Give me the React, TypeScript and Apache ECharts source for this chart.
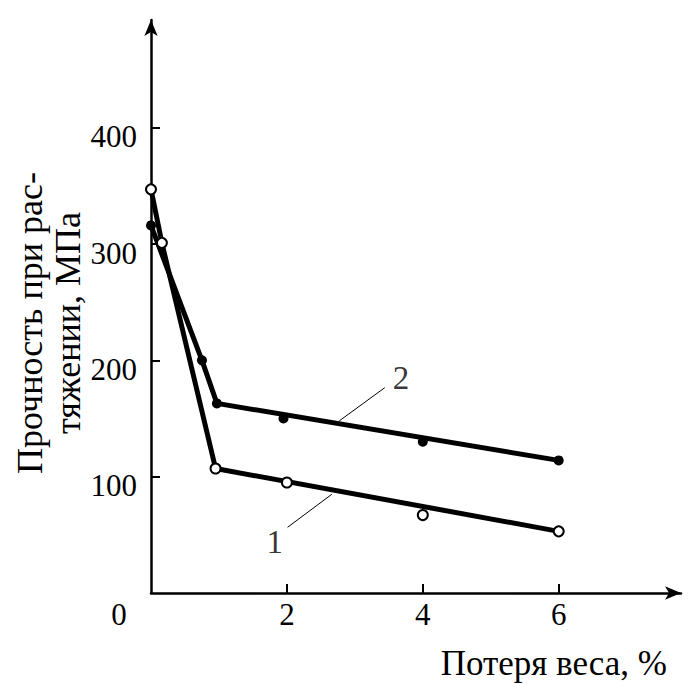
import React, { useEffect, useRef } from 'react';
import * as echarts from 'echarts';

const xLabelValues = [0, 2, 4, 6];
const xTickValues = [2, 4, 6];
const yTickValues = [100, 200, 300, 400];
const xMax = 7.8;
const yMax = 492.6;

// curve 1: open circles (measured points) and its fitted broken line
const curve1Points = [[0, 347], [0.16, 301], [0.95, 107], [2, 95], [4, 67], [6, 53]];
const curve1Line = [[0, 347], [0.16, 301], [0.95, 107], [6, 53]];
// curve 2: filled dots and its fitted broken line
const curve2Points = [[0, 316], [0.75, 200], [0.97, 163], [1.95, 150], [4, 130], [6, 114]];
const curve2Line = [[0, 316], [0.75, 200], [0.97, 163], [6, 114]];

const curveNames = ['1', '2'];
const curveNamePositions = [[1.82, 44], [3.68, 185]];
const leader1 = [[2.01, 56.5], [2.66, 84.8]];
const leader2 = [[3.44, 176.5], [2.77, 147.9]];

const xName = 'Потеря веса, %';
const yName = 'Прочность при рас-\nтяжении, МПа';

const FONT = 'Liberation Serif, serif';

export default function App() {
  const ref = useRef<HTMLDivElement>(null);
  useEffect(() => {
    if (!ref.current) return;
    const chart = echarts.init(ref.current, undefined, { renderer: 'svg' });
    const axisLine = {
      show: true,
      symbol: ['none', 'arrow'],
      symbolSize: [10, 16],
      lineStyle: { color: '#000', width: 2.5 },
    };
    chart.setOption({
      animation: false,
      backgroundColor: '#fff',
      grid: { left: 151, right: 8, top: 20, bottom: 91, containLabel: false },
      xAxis: {
        type: 'value',
        min: 0,
        max: xMax,
        interval: 2,
        splitLine: { show: false },
        axisLine,
        axisTick: {
          show: true,
          inside: true,
          length: 9,
          lineStyle: { color: '#000', width: 2 },
          customValues: xTickValues,
        },
        axisLabel: { show: false },
      },
      yAxis: {
        type: 'value',
        min: 0,
        max: yMax,
        interval: 100,
        splitLine: { show: false },
        axisLine,
        axisTick: {
          show: true,
          inside: true,
          length: 9,
          lineStyle: { color: '#000', width: 2 },
          customValues: yTickValues,
        },
        axisLabel: { show: false },
      },
      series: [
        { type: 'line', data: curve1Line, symbol: 'none', lineStyle: { color: '#000', width: 5 }, z: 2 },
        { type: 'line', data: curve2Line, symbol: 'none', lineStyle: { color: '#000', width: 5 }, z: 2 },
        { type: 'line', data: leader1, symbol: 'none', lineStyle: { color: '#000', width: 1 }, z: 2 },
        { type: 'line', data: leader2, symbol: 'none', lineStyle: { color: '#000', width: 1 }, z: 2 },
        {
          type: 'scatter',
          data: curve1Points,
          symbol: 'circle',
          symbolSize: 10,
          itemStyle: { color: '#fff', borderColor: '#000', borderWidth: 2, opacity: 1 },
          z: 3,
        },
        {
          type: 'scatter',
          data: curve2Points,
          symbol: 'circle',
          symbolSize: 10,
          itemStyle: { color: '#000', opacity: 1 },
          z: 3,
        },
        {
          type: 'scatter',
          data: curveNames.map((n, i) => ({ name: n, value: curveNamePositions[i] })),
          symbolSize: 1,
          itemStyle: { color: 'rgba(0,0,0,0)' },
          label: {
            show: true,
            position: 'inside',
            formatter: '{b}',
            fontFamily: FONT,
            fontSize: 33,
            color: '#000',
          },
          z: 3,
        },
      ],
    });

    // axis texts drawn as graphic text, placed from the axes' own scales
    const px = (p: number[]) => chart.convertToPixel({ gridIndex: 0 }, p) as number[];
    const txt = (text: string, x: number, y: number, extra: any = {}, size = 31) => ({
      type: 'text',
      x,
      y,
      silent: true,
      z: 10,
      ...extra.el,
      style: {
        text,
        fontFamily: FONT,
        fontSize: size,
        fill: '#000',
        align: 'center',
        verticalAlign: 'middle',
        ...extra.style,
      },
    });
    const graphics: any[] = [];
    yTickValues.forEach((v) => {
      const [x, y] = px([0, v]);
      graphics.push(txt(String(v), x - 14, y + 9, { style: { align: 'right' } }));
    });
    xLabelValues.forEach((v) => {
      const [x, y] = px([v, 0]);
      graphics.push(txt(String(v), v === 0 ? x - 32 : x, y + 21));
    });
    const [xe, ye] = px([xMax, 0]);
    graphics.push(txt(xName, xe - 14, ye + 70, { style: { align: 'right' } }, 35));
    const [ox, oy] = px([0, 0]);
    graphics.push(
      txt(yName, ox - 102, oy - 270, { el: { rotation: Math.PI / 2 }, style: { lineHeight: 38 } }, 36)
    );
    chart.setOption({ graphic: graphics });

    return () => chart.dispose();
  }, []);
  return (
    <div
      ref={ref}
      style={{ position: 'fixed', left: 0, top: 0, width: 689, height: 684, background: '#fff' }}
    />
  );
}
